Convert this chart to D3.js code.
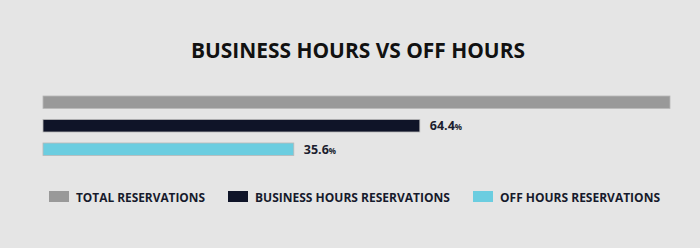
<html>
<head>
<style>
  body { margin: 0; background: #e5e5e5; }
  text { font-family: "Open Sans", sans-serif; }
</style>
<script src="https://d3js.org/d3.v7.min.js"></script>
</head>
<body>
<svg width="700" height="248"></svg>
<script>
// data
var categories = ["TOTAL RESERVATIONS", "BUSINESS HOURS RESERVATIONS", "OFF HOURS RESERVATIONS"];
var values = [1000, 601, 400];               // bar lengths
var valueLabels = [null, "64.4", "35.6"];    // printed shares
var colors = ["#999999", "#0f1428", "#6bcde0"];

var svg = d3.select("svg");
svg.append("rect").attr("width", 700).attr("height", 248).attr("fill", "#e5e5e5");

// title
svg.append("text")
   .attr("x", 358).attr("y", 58)
   .attr("text-anchor", "middle")
   .attr("font-size", 21).attr("font-weight", 700)
   .attr("fill", "#111")
   .attr("textLength", 334).attr("lengthAdjust", "spacingAndGlyphs")
   .text("BUSINESS HOURS VS OFF HOURS");

var x = d3.scaleLinear().domain([0, d3.max(values)]).range([43, 670]);
// rows: 23.5px step, bars 12.5px high
var y = d3.scaleBand().domain(categories).range([96, 155.5]).paddingInner(11 / 23.5).paddingOuter(0);

var g = svg.append("g");
g.selectAll(".bar")
 .data(values)
 .enter().append("rect")
 .attr("class", "bar")
 .attr("x", x(0))
 .attr("y", function(d, i){ return y(categories[i]); })
 .attr("width", function(d){ return x(d) - x(0); })
 .attr("height", y.bandwidth())
 .attr("fill", function(d, i){ return colors[i]; })
 .attr("stroke", "#b8b8b8").attr("stroke-width", 0.8);

// value labels
var lab = g.selectAll(".lab")
 .data(values.map(function(v, i){ return {v: v, t: valueLabels[i], c: categories[i]}; }).filter(function(d){ return d.t; }))
 .enter().append("text")
 .attr("x", function(d){ return x(d.v) + 10; })
 .attr("y", function(d){ return y(d.c) + y.bandwidth() / 2 + 4.5; })
 .attr("font-size", 12.5).attr("font-weight", 700)
 .attr("fill", "#1b1d2e");
lab.append("tspan").text(function(d){ return d.t; });
lab.append("tspan").attr("font-size", 8).text("%");

// legend
var legX = [49, 228, 473];
var legW = [129, 195, 160];
var leg = svg.selectAll(".leg")
 .data(categories)
 .enter().append("g")
 .attr("transform", function(d, i){ return "translate(" + legX[i] + ",191)"; });
leg.append("rect")
   .attr("width", 20).attr("height", 11)
   .attr("fill", function(d, i){ return colors[i]; });
leg.append("text")
   .attr("x", 27).attr("y", 10.5)
   .attr("font-size", 13).attr("font-weight", 700)
   .attr("fill", "#161a2c")
   .attr("textLength", function(d, i){ return legW[i]; })
   .attr("lengthAdjust", "spacingAndGlyphs")
   .text(function(d){ return d; });
</script>
</body>
</html>
